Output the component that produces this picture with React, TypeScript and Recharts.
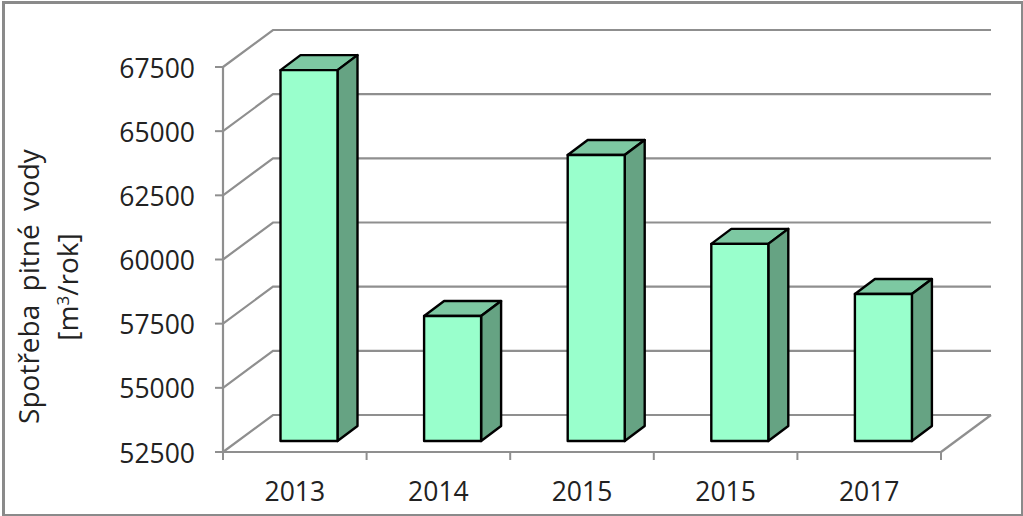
import React from "react";
import { BarChart, Bar, XAxis, YAxis, CartesianGrid } from "recharts";

const years = ["2013", "2014", "2015", "2015", "2017"];
const consumption = [66950, 57370, 63640, 60180, 58230];
const yTicks = [52500, 55000, 57500, 60000, 62500, 65000, 67500];
const rows = years.map((year, i) => ({ year, value: consumption[i] }));

const W = 1023, H = 516;
const LEFT = 223, RIGHT = 941, TOP = 67, BOTTOM = 452;
const BAND = (RIGHT - LEFT) / years.length;
const WALL_DX = 50, WALL_DY = -37;
const BAR_DX = 14.5, BAR_DY = -11;
const DEPTH_DX = 20, DEPTH_DY = -15;
const GREY = "#8f8f8f";
const FONT = "'Open Sans', sans-serif";
const TEXT = "#222222";

const GridLine = (p: any) => {
  const y = p.y1;
  const pts = `${LEFT},${y} ${LEFT + WALL_DX},${y + WALL_DY} ${RIGHT + WALL_DX},${y + WALL_DY}`;
  return (
    <g key={p.key}>
      <polyline points={pts} fill="none" stroke={GREY} strokeWidth={2.2} />
      {y >= BOTTOM - 1 && (
        <line x1={RIGHT} y1={y} x2={RIGHT + WALL_DX} y2={y + WALL_DY} stroke={GREY} strokeWidth={2.2} />
      )}
    </g>
  );
};

const Box = (p: any) => {
  const x = p.x + BAR_DX, y = p.y + BAR_DY, w = p.width, h = p.height;
  const r = x + w, b = y + h;
  const dx = DEPTH_DX, dy = DEPTH_DY;
  return (
    <g stroke="#000" strokeWidth={2.4} strokeLinejoin="round">
      <polygon points={`${x},${y} ${r},${y} ${r + dx},${y + dy} ${x + dx},${y + dy}`} fill="#7DC8A2" />
      <polygon points={`${r},${y} ${r + dx},${y + dy} ${r + dx},${b + dy} ${r},${b}`} fill="#66A383" />
      <rect x={x} y={y} width={w} height={h} fill="#99FFCC" />
    </g>
  );
};

const XTick = (p: any) => {
  const left = p.x - BAND / 2;
  return (
    <g>
      <line x1={left} y1={BOTTOM} x2={left} y2={BOTTOM + 8} stroke={GREY} strokeWidth={2} />
      {p.index === years.length - 1 && (
        <line x1={left + BAND} y1={BOTTOM} x2={left + BAND} y2={BOTTOM + 8} stroke={GREY} strokeWidth={2} />
      )}
      <text x={p.x} y={501} textAnchor="middle" fontFamily={FONT} fontSize={26.5} fill={TEXT}>
        {p.payload.value}
      </text>
    </g>
  );
};

const YTick = (p: any) => (
  <text x={p.x} y={p.y + 10.5} textAnchor="end" fontFamily={FONT} fontSize={26.5} fill={TEXT}>
    {p.payload.value}
  </text>
);

const YTitle = () => (
  <g fontFamily={FONT} fontSize={28} fill={TEXT} textAnchor="middle">
    <text transform="translate(39,286.5) rotate(-90)" wordSpacing={6}>Spotřeba pitné vody</text>
    <text transform="translate(78,287) rotate(-90)">
      [m<tspan fontSize={17} dy={-9}>3</tspan><tspan dy={9}>/rok]</tspan>
    </text>
  </g>
);

export default function App() {
  return (
    <div style={{ position: "fixed", left: 0, top: 0, width: W, height: H, background: "#fff" }}>
      <div style={{ position: "absolute", left: 2, top: 1, width: 1016, height: 510, border: "3px solid #8a8a8a" }} />
      <div style={{ position: "absolute", left: 0, top: 0 }}>
        <BarChart
          width={W}
          height={H}
          data={rows}
          margin={{ left: 0, right: W - RIGHT, top: TOP, bottom: 0 }}
        >
          <CartesianGrid vertical={false} horizontal={GridLine} />
          <XAxis
            dataKey="year"
            height={H - BOTTOM}
            axisLine={{ stroke: GREY, strokeWidth: 2.2 }}
            tickLine={false}
            interval={0}
            tick={XTick}
          />
          <YAxis
            width={LEFT}
            domain={[52500, 67500]}
            ticks={yTicks}
            interval={0}
            axisLine={{ stroke: GREY, strokeWidth: 2.2 }}
            tickLine={{ stroke: GREY, strokeWidth: 2 }}
            tickSize={8}
            tickMargin={20}
            tick={YTick}
            label={{ content: YTitle }}
          />
          <Bar dataKey="value" barSize={57} shape={Box} isAnimationActive={false} />
        </BarChart>
      </div>
    </div>
  );
}
